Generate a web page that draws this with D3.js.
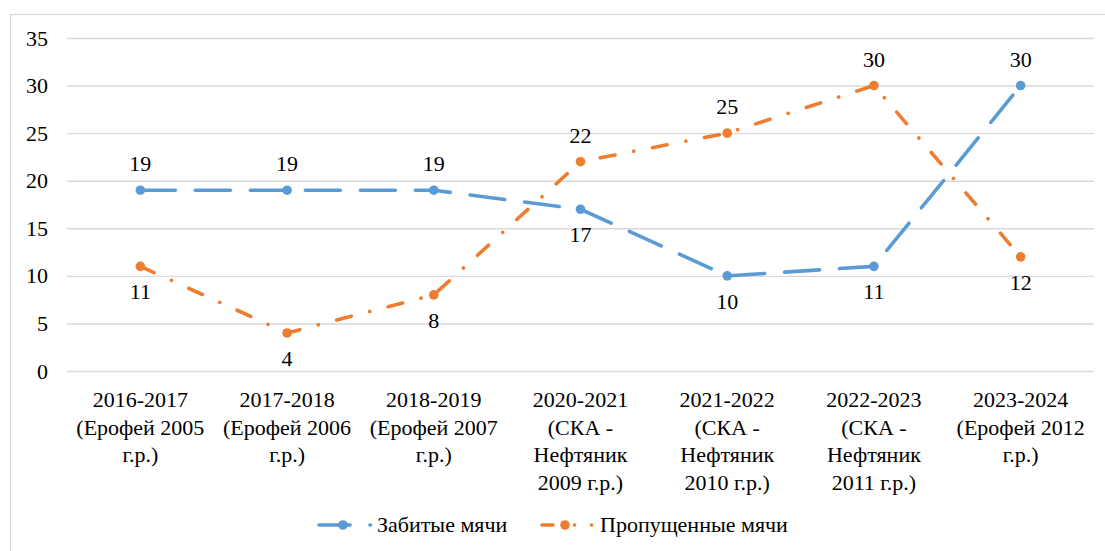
<!DOCTYPE html>
<html>
<head>
<meta charset="utf-8">
<script src="https://cdn.jsdelivr.net/npm/d3@7"></script>
</head>
<body style="margin:0">
<script>
// Chart data
const seasons = [
    ['2016-2017', '(Ерофей 2005', 'г.р.)'],
    ['2017-2018', '(Ерофей 2006', 'г.р.)'],
    ['2018-2019', '(Ерофей 2007', 'г.р.)'],
    ['2020-2021', '(СКА -', 'Нефтяник', '2009 г.р.)'],
    ['2021-2022', '(СКА -', 'Нефтяник', '2010 г.р.)'],
    ['2022-2023', '(СКА -', 'Нефтяник', '2011 г.р.)'],
    ['2023-2024', '(Ерофей 2012', 'г.р.)'],
];
const scored = [19, 19, 19, 17, 10, 11, 30];
const conceded = [11, 4, 8, 22, 25, 30, 12];
// label above (-1) or below (1) the point
const scoredLabelSide = [-1, -1, -1, 1, 1, 1, -1];
const concededLabelSide = [1, 1, 1, -1, -1, -1, 1];
const yTicks = [0, 5, 10, 15, 20, 25, 30, 35];
const seriesNames = ['Забитые мячи', 'Пропущенные мячи'];

const width = 1105;
const height = 551;
const plot = { left: 67, right: 1094, top: 38, bottom: 371 };
const fontFamily = '"Liberation Serif", monospace';

const blue = '#5b9bd5';
const orange = '#ed7d31';
const blueDash = '35 20';
const orangeDash = '15 19 0.1 19';

// every text gets the serif font directly
const serif = (sel) => sel
    .attr('font-size', 22)
    .style('font-family', fontFamily)
    .attr('fill', '#000');

const svg = d3.select('body')
    .append('svg')
        .attr('width', width)
        .attr('height', height);

// frame of the chart area
svg.append('rect')
    .attr('x', 10.5)
    .attr('y', 14.5)
    .attr('width', width + 10)
    .attr('height', height + 10)
    .attr('fill', 'none')
    .attr('stroke', '#d9d9d9')
    .attr('stroke-width', 1.2);

const x = d3.scalePoint()
    .domain(d3.range(seasons.length))
    .range([plot.left, plot.right])
    .padding(0.5);

const y = d3.scaleLinear()
    .domain([0, 35])
    .range([plot.bottom, plot.top]);

// gridlines + y labels
const yAxis = d3.axisLeft(y)
    .tickValues(yTicks)
    .tickSize(-(plot.right - plot.left))
    .tickPadding(19);

const gy = svg.append('g')
    .attr('transform', `translate(${plot.left}, 0)`)
    .call(yAxis)
    .attr('font-family', null)
    .attr('font-size', null);
gy.select('.domain').remove();
gy.selectAll('.tick line')
    .attr('stroke', '#d9d9d9')
    .attr('stroke-width', 1.4);
gy.selectAll('.tick text').call(serif);

// category labels
const catGroup = svg.append('g');
seasons.forEach((lines, i) => {
    const t = catGroup.append('text')
        .attr('text-anchor', 'middle')
        .call(serif);
    lines.forEach((line, j) => {
        t.append('tspan')
            .attr('x', x(i))
            .attr('y', 407 + j * 27.5)
            .text(line);
    });
});

const line = d3.line()
    .x((d, i) => x(i))
    .y(d => y(d));

const drawSeries = (values, color, dash, sides) => {
    const g = svg.append('g');
    g.append('path')
        .datum(values)
        .attr('d', line)
        .attr('fill', 'none')
        .attr('stroke', color)
        .attr('stroke-width', 3.6)
        .attr('stroke-linecap', 'round')
        .attr('stroke-linejoin', 'round')
        .attr('stroke-dasharray', dash);

    g.selectAll('circle')
        .data(values)
        .join('circle')
            .attr('cx', (d, i) => x(i))
            .attr('cy', d => y(d))
            .attr('r', 4.8)
            .attr('fill', color);

    g.selectAll('text')
        .data(values)
        .join('text')
            .attr('x', (d, i) => x(i))
            .attr('y', (d, i) => y(d) + sides[i] * 26 + 7)
            .attr('text-anchor', 'middle')
            .call(serif)
            .text(d => d);
};

drawSeries(scored, blue, blueDash, scoredLabelSide);
drawSeries(conceded, orange, orangeDash, concededLabelSide);

// legend
const legendItems = [
    { name: seriesNames[0], color: blue, dash: '31 20', x0: 319, x1: 370.5, mark: 343, textX: 377 },
    { name: seriesNames[1], color: orange, dash: '11 21.5 0.1 16.9 0.1 100', x0: 542, x1: 593, mark: 565, textX: 600 },
];
const legendY = 525;
const legend = svg.append('g');
legendItems.forEach(item => {
    legend.append('line')
        .attr('x1', item.x0)
        .attr('x2', item.x1)
        .attr('y1', legendY)
        .attr('y2', legendY)
        .attr('stroke', item.color)
        .attr('stroke-width', 3.6)
        .attr('stroke-linecap', 'round')
        .attr('stroke-dasharray', item.dash);
    legend.append('circle')
        .attr('cx', item.mark)
        .attr('cy', legendY)
        .attr('r', 4.8)
        .attr('fill', item.color);
    legend.append('text')
        .attr('x', item.textX)
        .attr('y', legendY + 7)
        .call(serif)
        .text(item.name);
});
</script>
</body>
</html>
